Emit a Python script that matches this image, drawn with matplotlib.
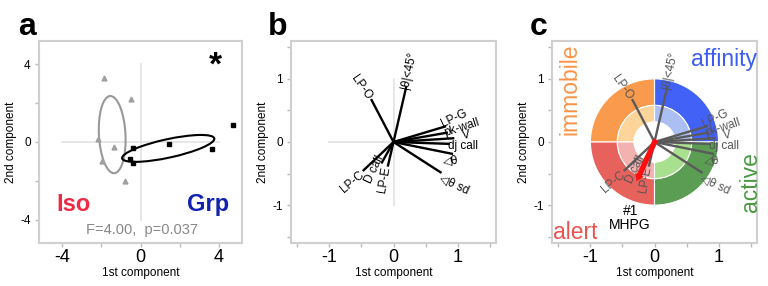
import numpy as np
import matplotlib
matplotlib.use("Agg")
import matplotlib.pyplot as plt
from matplotlib.patches import Ellipse, Wedge

plt.rcParams["font.family"] = ["Liberation Sans", "DejaVu Sans"]

# panel a: PCA scores
iso_x = [-1.87, -0.51, -2.18, -1.36, -1.95, -0.80]
iso_y = [3.28, 2.20, 0.14, -0.24, -1.00, -2.00]
grp_x = [4.76, -0.37, 1.45, 3.67, -0.56, -0.37]
grp_y = [0.86, -0.32, -0.10, -0.38, -0.89, -1.07]
# ellipses: center x, center y, width, height, angle
iso_ell = (-1.45, 0.38, 1.36, 3.98, 3)
grp_ell = (1.42, -0.33, 4.83, 0.95, 12.3)

# panels b/c: loadings
load_names = ["|θ|<45°", "LP-O", "LP-G", "pk-wall", "V", "dj call",
              "◁θ", "◁θ sd", "LP-C", "D call", "LP-E"]
load_x = [0.20, -0.35, 0.82, 0.85, 0.95, 0.88, 0.93, 0.75, -0.48, -0.19, -0.09]
load_y = [0.88, 0.68, 0.25, 0.15, 0.06, -0.03, -0.19, -0.49, -0.46, -0.34, -0.39]
lab_x = [0.25, -0.50, 0.95, 1.06, 1.14, 1.08, 0.90, 0.95, -0.64, -0.30, -0.14]
lab_y = [1.14, 0.87, 0.38, 0.22, 0.11, -0.06, -0.31, -0.68, -0.63, -0.44, -0.60]
lab_rot = [78, -55, 25, 18, 10, 0, 10, -25, 40, 65, 80]

# panel c: behavioural quadrants and MHPG vector
quadrants = ["affinity", "immobile", "alert", "active"]
outer_cols = ["#4262f7", "#f99a4c", "#e8625d", "#5b9e53"]
inner_cols = ["#abbff5", "#fdd59b", "#f3b1b0", "#a9e08f"]
text_cols = ["#3a5cf2", "#f7944a", "#ea5450", "#4a9a42"]
quad_lab_x = [1.09, -1.32, -1.23, 1.50]
quad_lab_y = [1.30, 0.83, -1.43, -0.63]
quad_rot = [0, 90, 0, 90]
mhpg_x, mhpg_y = -0.28, -0.62

fig = plt.figure(figsize=(7.68, 2.86), dpi=100)
W, H = 768, 286


def make_ax(left, top, w, h):
    return fig.add_axes([left / W, 1 - (top + h) / H, w / W, h / H])


def style(ax, lim, major, minor):
    ax.set_xlim(-lim, lim)
    ax.set_ylim(-lim, lim)
    for s in ax.spines.values():
        s.set_color("#cfcfcf")
        s.set_linewidth(1.5)
    ax.set_xticks(major)
    ax.set_yticks(major)
    ax.set_xticks(minor, minor=True)
    ax.set_yticks(minor, minor=True)
    ax.set_xticklabels([f"{v:g}" for v in major], fontsize=13)
    ax.set_yticklabels([f"{v:g}" for v in major], fontsize=8.5)
    ax.tick_params(which="both", direction="out", length=3, color="#bbbbbb", width=1)
    ax.tick_params(axis="x", pad=1)
    ax.tick_params(axis="y", pad=3)
    ax.set_xlabel("1st component", fontsize=8.5, labelpad=1)
    ax.set_ylabel("2nd component", fontsize=8.5, labelpad=2)


# ---- a
ax = make_ax(39, 41, 203, 202)
style(ax, 5.2, [-4, 0, 4], [-2, 2])
ax.plot([0, 0], [-4, 4], color="#e3e3e3", lw=1.2, zorder=0)
ax.plot([-4, 4], [0, 0], color="#e3e3e3", lw=1.2, zorder=0)
ax.plot(iso_x, iso_y, "^", color="#a0a0a0", ms=3.5, ls="none")
ax.plot(grp_x, grp_y, "s", color="black", ms=3, ls="none")
cx, cy, w, h, ang = iso_ell
ax.add_patch(Ellipse((cx, cy), w, h, angle=ang, fill=False, ec="#999999", lw=1.5))
cx, cy, w, h, ang = grp_ell
ax.add_patch(Ellipse((cx, cy), w, h, angle=ang, fill=False, ec="black", lw=1.5))
ax.text(-3.42, -3.2, "Iso", color="#ee2a45", fontsize=17, fontweight="bold", ha="center", va="center")
ax.text(3.47, -3.2, "Grp", color="#1222b0", fontsize=17, fontweight="bold", ha="center", va="center")
ax.text(0.1, -4.55, "F=4.00,  p=0.037", color="#888888", fontsize=10.5, ha="center", va="center")
ax.text(3.83, 3.9, "*", color="black", fontsize=24, fontweight="bold", ha="center", va="center")

# ---- b
ax = make_ax(291, 41, 205, 202)
style(ax, 1.6, [-1, 0, 1], [-1.5, -0.5, 0.5, 1.5])
ax.plot([0, 0], [-1, 1], color="#e3e3e3", lw=1.2, zorder=0)
ax.plot([-1, 1], [0, 0], color="#e3e3e3", lw=1.2, zorder=0)
for i in range(len(load_names)):
    ax.plot([0, load_x[i]], [0, load_y[i]], color="black", lw=1.7, solid_capstyle="butt")
    ax.text(lab_x[i], lab_y[i], load_names[i], rotation=lab_rot[i], fontsize=8.5,
            ha="center", va="center", color="black", rotation_mode="anchor")

# ---- c
ax = make_ax(552, 41, 205, 202)
style(ax, 1.6, [-1, 0, 1], [-1.5, -0.5, 0.5, 1.5])
for i, q in enumerate(quadrants):
    ax.add_patch(Wedge((0, 0), 1.0, 90 * i, 90 * (i + 1), width=0.42,
                       fc=outer_cols[i], ec="white", lw=0.8, zorder=1))
    ax.add_patch(Wedge((0, 0), 0.58, 90 * i, 90 * (i + 1), width=0.26,
                       fc=inner_cols[i], ec="white", lw=0.8, zorder=1))
    ax.text(quad_lab_x[i], quad_lab_y[i], q, color=text_cols[i], fontsize=16.5,
            rotation=quad_rot[i], ha="center", va="center")
for i in range(len(load_names)):
    ax.plot([0, load_x[i]], [0, load_y[i]], color="#5a5a5a", lw=1.7,
            solid_capstyle="butt", zorder=2)
    ax.text(lab_x[i], lab_y[i], load_names[i], rotation=lab_rot[i], fontsize=8.5,
            ha="center", va="center", color="#555555", rotation_mode="anchor", zorder=3)
ax.arrow(0.02, 0.04, mhpg_x - 0.02, mhpg_y - 0.04, width=0.085, head_width=0.15,
         head_length=0.11, length_includes_head=True, fc="#ff1010", ec="none", zorder=4)
ax.text(-0.38, -1.2, "#1\nMHPG", fontsize=10, ha="center", va="center",
        linespacing=1.0, color="black")

for lx, lab in [(18, "a"), (268, "b"), (530, "c")]:
    fig.text(lx / W, 1 - 35 / H, lab, fontsize=23, fontweight="bold", ha="left", va="baseline")

fig.savefig("out.png", dpi=100)
